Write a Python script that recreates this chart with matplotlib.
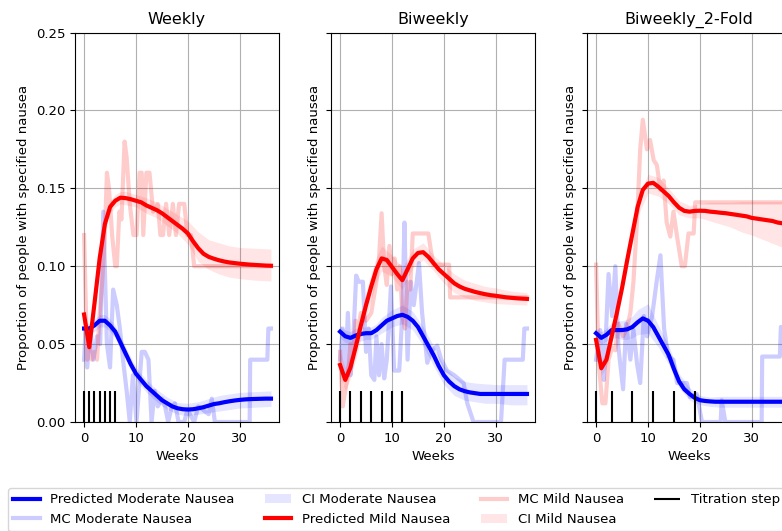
import matplotlib
matplotlib.use("Agg")
import matplotlib.pyplot as plt

# ---------------- data ----------------
titles = ["Weekly", "Biweekly", "Biweekly_2-Fold"]
weeks = list(range(37))
x_ci = [0, 1, 2, 3, 4, 5, 6, 7, 8, 10, 12, 14, 16, 18, 20, 22, 24, 26, 28, 30, 33, 36]

# Weekly
w_pred_mod = [0.060, 0.060, 0.062, 0.065, 0.065, 0.062, 0.058, 0.051, 0.044, 0.037,
              0.031, 0.027, 0.023, 0.020, 0.017, 0.014, 0.012, 0.010, 0.0088, 0.0082,
              0.008, 0.0082, 0.0088, 0.0095, 0.0105, 0.0115, 0.012, 0.0127, 0.0133, 0.0138,
              0.0142, 0.0145, 0.0147, 0.0148, 0.0149, 0.015, 0.015]
w_pred_mild = [0.069, 0.048, 0.076, 0.105, 0.127, 0.138, 0.142, 0.144, 0.1437, 0.143,
               0.142, 0.141, 0.139, 0.1375, 0.136, 0.134, 0.1315, 0.129, 0.1265, 0.124,
               0.121, 0.116, 0.1115, 0.108, 0.106, 0.1048, 0.1038, 0.103, 0.1024, 0.102,
               0.1016, 0.1013, 0.101, 0.1008, 0.1006, 0.1004, 0.1003]
w_ci_mod_lo = [0.057, 0.057, 0.058, 0.061, 0.061, 0.058, 0.054, 0.047, 0.040, 0.027, 0.019,
               0.013, 0.008, 0.005, 0.004, 0.005, 0.006, 0.007, 0.008, 0.009, 0.0095, 0.010]
w_ci_mod_hi = [0.064, 0.063, 0.066, 0.069, 0.069, 0.066, 0.062, 0.055, 0.048, 0.035, 0.027,
               0.021, 0.016, 0.0125, 0.012, 0.013, 0.015, 0.017, 0.018, 0.019, 0.0195, 0.020]
w_ci_mild_lo = [0.064, 0.044, 0.072, 0.101, 0.123, 0.134, 0.138, 0.140, 0.1395, 0.138, 0.134,
                0.131, 0.126, 0.121, 0.114, 0.103, 0.098, 0.095, 0.093, 0.092, 0.091, 0.0905]
w_ci_mild_hi = [0.074, 0.052, 0.080, 0.109, 0.131, 0.142, 0.146, 0.148, 0.148, 0.146, 0.144,
                0.141, 0.137, 0.133, 0.129, 0.122, 0.117, 0.115, 0.113, 0.112, 0.1115, 0.111]
w_mc_mod_x = [0, 0.3, 0.6, 1.2, 1.8, 2.5, 3.1, 3.7, 4.4, 5.0, 5.6, 6.3, 6.9, 7.5, 8.2, 8.8,
              9.4, 10.1, 11.1, 11.7, 12.4, 13.0, 13.6, 14.2, 15.0, 15.6, 16.2, 16.9, 17.5,
              18.2, 19.3, 19.9, 21.2, 22, 24, 24.6, 25.2, 31.9, 32, 35.3, 35.5, 36]
w_mc_mod = [0.04, 0.06, 0.035, 0.06, 0.04, 0.055, 0.05, 0.135, 0.05, 0.035, 0.085, 0.075,
            0.06, 0.04, 0.02, 0.0, 0.03, 0.0, 0.045, 0.045, 0.04, 0.0, 0.02, 0.01, 0.015,
            0.01, 0.0, 0.01, 0.012, 0.0, 0.0, 0.008, 0.0, 0.01, 0.005, 0.015, 0.0, 0.0,
            0.04, 0.04, 0.06, 0.06]
w_mc_mild_x = [0, 0.3, 0.6, 1, 1.5, 2, 2.5, 3, 3.5, 4, 4.4, 4.8, 5.4, 6, 6.3, 6.8, 7.2, 7.8,
               8.2, 8.8, 9.5, 10.1, 10.7, 11.1, 11.4, 12, 12.6, 13.3, 14.2, 14.7, 15.2, 15.8,
               16.4, 17.1, 17.7, 18.3, 19.3, 19.9, 20.6, 21.2, 22, 24, 26, 28, 30, 32, 34, 36]
w_mc_mild = [0.12, 0.08, 0.04, 0.05, 0.04, 0.045, 0.04, 0.07, 0.09, 0.12, 0.16, 0.15, 0.12,
             0.10, 0.10, 0.135, 0.13, 0.18, 0.17, 0.14, 0.12, 0.12, 0.16, 0.16, 0.12, 0.16,
             0.16, 0.135, 0.14, 0.12, 0.12, 0.14, 0.12, 0.14, 0.12, 0.14, 0.14, 0.12, 0.12,
             0.10, 0.10, 0.10, 0.10, 0.10, 0.10, 0.10, 0.10, 0.10]
w_steps = [0, 1, 2, 3, 4, 5, 6]

# Biweekly
b_pred_mod = [0.058, 0.055, 0.054, 0.0555, 0.0565, 0.057, 0.057, 0.059, 0.062, 0.065,
              0.0665, 0.068, 0.0688, 0.0675, 0.065, 0.061, 0.055, 0.049, 0.043, 0.036,
              0.030, 0.026, 0.023, 0.021, 0.0198, 0.019, 0.0185, 0.018, 0.018, 0.018,
              0.018, 0.018, 0.018, 0.018, 0.018, 0.018, 0.018]
b_pred_mild = [0.0366, 0.027, 0.035, 0.048, 0.062, 0.075, 0.087, 0.098, 0.105, 0.104,
               0.0995, 0.095, 0.091, 0.098, 0.105, 0.1085, 0.109, 0.106, 0.102, 0.098,
               0.095, 0.092, 0.089, 0.087, 0.0855, 0.0845, 0.0835, 0.0827, 0.082, 0.0814,
               0.081, 0.0805, 0.080, 0.0797, 0.0794, 0.0792, 0.079]
b_ci_mod_lo = [0.054, 0.051, 0.050, 0.051, 0.052, 0.053, 0.053, 0.055, 0.057, 0.061, 0.063,
               0.059, 0.049, 0.036, 0.024, 0.017, 0.014, 0.013, 0.012, 0.012, 0.011, 0.011]
b_ci_mod_hi = [0.062, 0.059, 0.058, 0.060, 0.061, 0.061, 0.061, 0.063, 0.067, 0.072, 0.075,
               0.071, 0.061, 0.049, 0.036, 0.029, 0.026, 0.025, 0.0245, 0.024, 0.024, 0.024]
b_ci_mild_lo = [0.030, 0.020, 0.028, 0.040, 0.054, 0.067, 0.079, 0.090, 0.097, 0.093, 0.085,
                0.099, 0.104, 0.097, 0.089, 0.083, 0.080, 0.078, 0.077, 0.076, 0.0755, 0.075]
b_ci_mild_hi = [0.045, 0.035, 0.043, 0.056, 0.070, 0.083, 0.095, 0.106, 0.113, 0.107, 0.099,
                0.111, 0.115, 0.107, 0.101, 0.095, 0.091, 0.089, 0.087, 0.086, 0.084, 0.083]
b_mc_mod_x = [0, 0.5, 1, 1.5, 2, 2.5, 3.1, 3.6, 4.4, 5, 5.5, 6, 6.6, 7, 7.5, 8, 8.5, 9, 9.8,
              10.4, 11.4, 12, 12.4, 13, 13.6, 14.2, 15.2, 15.8, 16.8, 17.5, 18.7, 19.5, 20.6,
              22, 23.8, 24.5, 25.7, 31, 31.7, 35.2, 35.5, 36]
b_mc_mod = [0.04, 0.06, 0.03, 0.07, 0.03, 0.05, 0.094, 0.09, 0.09, 0.045, 0.06, 0.03, 0.027,
            0.055, 0.03, 0.05, 0.028, 0.04, 0.087, 0.033, 0.033, 0.07, 0.128, 0.04, 0.09,
            0.075, 0.102, 0.07, 0.038, 0.045, 0.049, 0.04, 0.033, 0.03, 0.025, 0.012, 0.0,
            0.0, 0.04, 0.04, 0.06, 0.06]
b_mc_mild_x = [0, 0.5, 1, 1.5, 2, 2.5, 3, 3.5, 4, 5, 6, 6.5, 7, 7.5, 8, 8.5, 9, 9.5, 10, 10.5,
               11, 11.5, 12, 12.5, 13, 13.5, 14, 17, 17.5, 18, 21, 21.2, 36]
b_mc_mild = [0.045, 0.01, 0.02, 0.03, 0.05, 0.045, 0.065, 0.06, 0.07, 0.065, 0.07, 0.08,
             0.09, 0.105, 0.134, 0.10, 0.088, 0.113, 0.095, 0.105, 0.085, 0.10, 0.068, 0.06,
             0.09, 0.085, 0.121, 0.121, 0.11, 0.101, 0.101, 0.08, 0.08]
b_steps = [0, 2, 4, 6, 8, 10, 12]

# Biweekly_2-Fold
f_pred_mod = [0.057, 0.054, 0.056, 0.059, 0.059, 0.059, 0.0595, 0.061, 0.064, 0.0665,
              0.065, 0.061, 0.055, 0.049, 0.043, 0.034, 0.026, 0.021, 0.018, 0.0155,
              0.014, 0.0135, 0.0132, 0.013, 0.013, 0.013, 0.013, 0.013, 0.013, 0.013,
              0.013, 0.013, 0.013, 0.013, 0.013, 0.013, 0.013]
f_pred_mild = [0.0527, 0.0345, 0.040, 0.055, 0.070, 0.086, 0.104, 0.121, 0.138, 0.149,
               0.153, 0.1535, 0.151, 0.148, 0.145, 0.141, 0.1375, 0.1355, 0.135, 0.1355,
               0.1356, 0.1355, 0.135, 0.1347, 0.1343, 0.134, 0.1335, 0.133, 0.1325, 0.132,
               0.131, 0.1305, 0.130, 0.1295, 0.129, 0.128, 0.1275]
f_ci_mod_lo = [0.054, 0.050, 0.052, 0.054, 0.054, 0.053, 0.053, 0.054, 0.056, 0.057, 0.048,
               0.037, 0.022, 0.014, 0.011, 0.010, 0.0095, 0.0095, 0.0095, 0.0095, 0.0095, 0.0095]
f_ci_mod_hi = [0.060, 0.058, 0.060, 0.064, 0.065, 0.065, 0.066, 0.068, 0.072, 0.076, 0.062,
               0.049, 0.031, 0.022, 0.017, 0.016, 0.0165, 0.0165, 0.0165, 0.0165, 0.0165, 0.0165]
f_ci_mild_lo = [0.048, 0.030, 0.035, 0.050, 0.065, 0.081, 0.099, 0.116, 0.132, 0.147, 0.145,
                0.140, 0.133, 0.131, 0.131, 0.129, 0.127, 0.125, 0.122, 0.120, 0.116, 0.112]
f_ci_mild_hi = [0.057, 0.040, 0.045, 0.060, 0.075, 0.091, 0.109, 0.126, 0.143, 0.159, 0.157,
                0.150, 0.142, 0.139, 0.140, 0.141, 0.141, 0.141, 0.1415, 0.1415, 0.1415, 0.1415]
f_mc_mod_x = [0, 0.8, 1.5, 2.4, 3.1, 3.7, 4.3, 5.2, 5.8, 6.6, 7.2, 7.9, 8.5, 9.2, 9.8, 10.8,
              11.7, 12.4, 13.1, 13.9, 14.9, 15.6, 17.5, 18.1, 19.4, 20.4, 24, 24.2, 24.9,
              31.9, 32, 35.4, 35.6, 36]
f_mc_mod = [0.04, 0.059, 0.027, 0.095, 0.068, 0.1, 0.048, 0.021, 0.063, 0.04, 0.059, 0.037,
            0.025, 0.068, 0.055, 0.068, 0.091, 0.107, 0.06, 0.042, 0.04, 0.025, 0.025, 0.016,
            0.018, 0.0, 0.0, 0.014, 0.0, 0.0, 0.042, 0.042, 0.061, 0.061]
f_mc_mild_x = [0, 0.5, 1.2, 1.8, 2.4, 3.1, 3.7, 4.3, 5.2, 5.9, 6.6, 7.2, 7.9, 8.5, 9.0, 9.8,
               10.4, 11.1, 11.7, 12.4, 13.0, 13.6, 14.3, 14.9, 15.6, 16.5, 17.1, 17.8, 18.8,
               19.1, 36]
f_mc_mild = [0.101, 0.038, 0.012, 0.012, 0.04, 0.048, 0.046, 0.063, 0.055, 0.06, 0.07, 0.09,
             0.13, 0.175, 0.194, 0.175, 0.181, 0.168, 0.165, 0.149, 0.155, 0.128, 0.119,
             0.135, 0.119, 0.10, 0.10, 0.121, 0.121, 0.141, 0.141]
f_steps = [0, 3, 7, 11, 15, 19]

panels = [
    (w_pred_mod, w_pred_mild, w_ci_mod_lo, w_ci_mod_hi, w_ci_mild_lo, w_ci_mild_hi,
     w_mc_mod_x, w_mc_mod, w_mc_mild_x, w_mc_mild, w_steps),
    (b_pred_mod, b_pred_mild, b_ci_mod_lo, b_ci_mod_hi, b_ci_mild_lo, b_ci_mild_hi,
     b_mc_mod_x, b_mc_mod, b_mc_mild_x, b_mc_mild, b_steps),
    (f_pred_mod, f_pred_mild, f_ci_mod_lo, f_ci_mod_hi, f_ci_mild_lo, f_ci_mild_hi,
     f_mc_mod_x, f_mc_mod, f_mc_mild_x, f_mc_mild, f_steps),
]

# ---------------- plot ----------------
plt.rcParams["font.size"] = 9.5
fig = plt.figure(figsize=(7.82, 5.31), dpi=100)
W, H = 782.0, 531.0
lefts = [75, 331, 587]
ax_w, top, bottom = 204, 32.5, 422
axes = []
for i, lp in enumerate(lefts):
    ax = fig.add_axes([lp / W, (H - bottom) / H, ax_w / W, (bottom - top) / H],
                      sharey=axes[0] if axes else None)
    axes.append(ax)

for i, (ax, d) in enumerate(zip(axes, panels)):
    (pm, pmi, cml, cmh, cil, cih, mmx, mm, mix, mi, steps) = d
    ax.plot(weeks, pm, color="blue", lw=3, zorder=5, label="Predicted Moderate Nausea")
    ax.plot(mmx, mm, color="blue", lw=3, alpha=0.2, zorder=3, label="MC Moderate Nausea")
    ax.fill_between(x_ci, cml, cmh, color="blue", alpha=0.1, lw=0, zorder=2,
                    label="CI Moderate Nausea")
    ax.plot(weeks, pmi, color="red", lw=3, zorder=6, label="Predicted Mild Nausea")
    ax.plot(mix, mi, color="red", lw=3, alpha=0.2, zorder=3, label="MC Mild Nausea")
    ax.fill_between(x_ci, cil, cih, color="red", alpha=0.1, lw=0, zorder=2,
                    label="CI Mild Nausea")
    ax.vlines(steps, 0, 0.02, color="black", lw=1.5, zorder=7, label="Titration step")
    ax.set_title(titles[i], fontsize=11.5)
    ax.set_xlabel("Weeks")
    ax.set_ylabel("Proportion of people with specified nausea")
    ax.grid(True)
    ax.set_axisbelow(True)
    ax.set_xlim(-1.75, 37.55)
    ax.set_xticks([0, 10, 20, 30])
    if i > 0:
        ax.tick_params(labelleft=False)

axes[0].set_ylim(0, 0.25)
axes[0].set_yticks([0, 0.05, 0.10, 0.15, 0.20, 0.25])

handles, labels = axes[0].get_legend_handles_labels()
fig.legend(handles, labels, loc="upper left", bbox_to_anchor=(8 / W, (H - 488) / H),
           ncol=4, borderaxespad=0, fontsize=9.5, columnspacing=2.3)

fig.savefig("out.png", dpi=100)
